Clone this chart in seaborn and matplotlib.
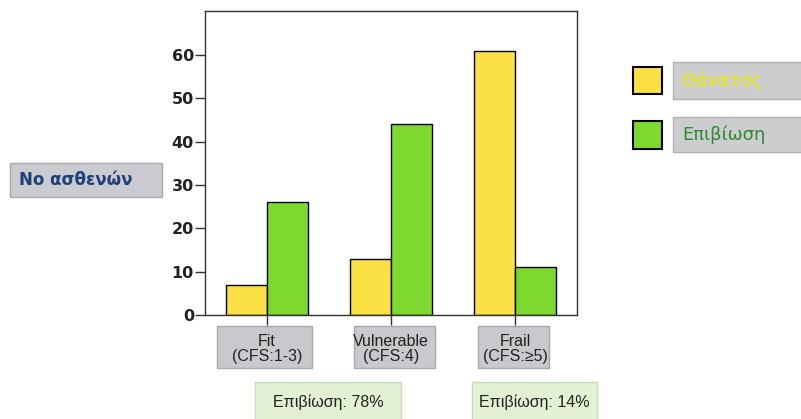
import matplotlib
matplotlib.use("Agg")
import matplotlib.pyplot as plt
import pandas as pd
import seaborn as sns
from matplotlib.patches import Rectangle

# data
categories = ["Fit\n(CFS:1-3)", "Vulnerable\n(CFS:4)", "Frail\n(CFS:≥5)"]
deaths = [7, 13, 61]
survival = [26, 44, 11]
series_names = ["Θάνατος", "Επιβίωση"]
survival_notes = ["Επιβίωση: 78%", "Επιβίωση: 14%"]
y_ticks = [0, 10, 20, 30, 40, 50, 60]

YELLOW = "#fbe043"
GREEN = "#7dd82f"

df = pd.DataFrame({
    "cat": categories * 2,
    "group": [series_names[0]] * 3 + [series_names[1]] * 3,
    "n": deaths + survival,
})

W, H = 801, 419
sns.set_theme(style="white")
plt.rcParams["font.family"] = ["DejaVu Sans"]
fig = plt.figure(figsize=(W / 100, H / 100), dpi=100)
fig.patch.set_facecolor("white")


def px_box(x0, y0, x1, y1, fc, ec, lw=1.0, z=-1):
    # rectangle given in image pixels (top-left origin)
    r = Rectangle((x0 / W, 1 - y1 / H), (x1 - x0) / W, (y1 - y0) / H,
                  transform=fig.transFigure, facecolor=fc, edgecolor=ec,
                  linewidth=lw, zorder=z)
    fig.patches.append(r)


ax = fig.add_axes([205 / W, 1 - 315 / H, 372 / W, 304 / H])
sns.barplot(data=df, x="cat", y="n", hue="group", palette=[YELLOW, GREEN],
            width=0.66, edgecolor="black", linewidth=1.0, saturation=1,
            legend=False, ax=ax)
ax.set_xlim(-0.5, 2.5)
ax.set_ylim(0, 70.2)
ax.set_yticks(y_ticks)
ax.set_xlabel("")
ax.set_ylabel("")
for s in ax.spines.values():
    s.set_color("#333333")
    s.set_linewidth(1.0)
ax.tick_params(axis="y", length=7.5, width=1, color="#333333", pad=0.5,
               labelsize=11.5, labelcolor="#222222", left=True)
ax.tick_params(axis="x", length=7.5, width=1, color="#333333", pad=6,
               labelsize=11.5, labelcolor="#222222", bottom=True)
for t in ax.get_yticklabels():
    t.set_fontweight("semibold")
ax.set_xticks(range(3))
ax.set_xticklabels(categories, fontfamily="Liberation Sans", linespacing=1.0)

# grey boxes behind the category labels
for x0, x1 in [(217, 312), (354, 435), (478, 549)]:
    px_box(x0, 326, x1, 368, "#c9c9cd", "#a9a9ad")

# survival notes under the chart
for (x0, x1), note in zip([(255, 401), (472, 597)], survival_notes):
    px_box(x0, 382, x1, 421, "#e3f0d3", "#c9d8bb")
    fig.text((x0 + x1) / 2 / W, 1 - 402 / H, note, ha="center", va="center",
             fontsize=11.5, family="Liberation Sans", color="#222222")

# y label box
px_box(10, 163, 162, 197, "#c9cbd0", "#a6a8ad")
fig.text(19 / W, 1 - 180 / H, "Νο ασθενών", ha="left", va="center",
         fontsize=12, fontweight="bold", color="#1f3f7a")

# legend
leg_rows = [(67, 94, 62, 99, YELLOW, "#e8f000"), (121, 149, 117, 152, GREEN, "#2f8a2f")]
for (sy0, sy1, by0, by1, col, tcol), name in zip(leg_rows, series_names):
    px_box(633, sy0, 662, sy1, col, "black", lw=1.5, z=1)
    px_box(673, by0, 805, by1, "#cdcdd0", "#b0b0b4", z=1)
    fig.text(682 / W, 1 - (by0 + by1) / 2 / H, name, ha="left", va="center",
             fontsize=13, color=tcol, zorder=2)

fig.savefig("out.png", dpi=100)
